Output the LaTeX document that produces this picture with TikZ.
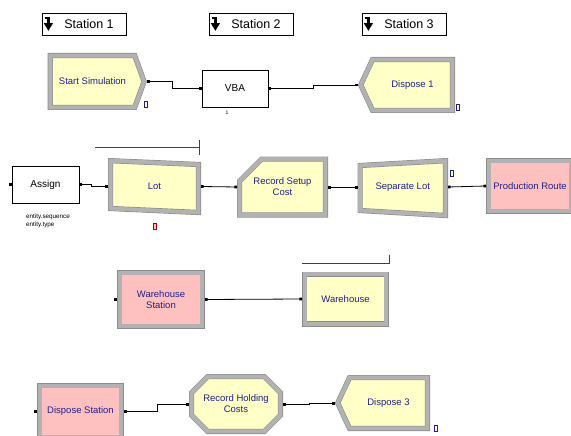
\documentclass[tikz,border=0pt]{standalone}
\usepackage{fontspec}
\setmainfont{Liberation Sans}
\usepackage{tikz}
\usetikzlibrary{positioning}
\usetikzlibrary{arrows.meta}
\usetikzlibrary{shapes.symbols,shapes.misc}

\definecolor{modyellow}{RGB}{255,255,200}
\definecolor{modpink}{RGB}{255,192,192}
\definecolor{modblue}{RGB}{32,32,140}
\definecolor{bevelgray}{RGB}{178,178,178}
\definecolor{queueblue}{RGB}{45,45,215}

\begin{document}
\begin{tikzpicture}[x=1pt,y=-1pt,
		module/.style={draw=black!45, line width=0.6pt, double=bevelgray, double distance=4pt, fill=modyellow, text=modblue, font=\fontsize{9.5}{11}\selectfont, align=center, inner sep=0pt, outer sep=2.6pt},
		station/.style={module, fill=modpink},
		modtext/.style={text=modblue, font=\fontsize{9.5}{11}\selectfont, align=center, inner sep=0pt, outer sep=0pt},
		bevel/.style={draw=black!45, line width=0.6pt, double=bevelgray, double distance=4pt, fill=modyellow},
		plain/.style={draw=black, line width=0.6pt, fill=white, font=\fontsize{10}{12}\selectfont, inner sep=0pt, outer sep=0pt},
		stationlabel/.style={draw=black, line width=0.7pt, fill=white, minimum width=84, minimum height=22, inner sep=0pt, font=\fontsize{12.5}{14}\selectfont,
			path picture={
				\draw[black,line width=2.6pt] ([shift={(2.5pt,6pt)}]path picture bounding box.west) -| ([shift={(6.4pt,0pt)}]path picture bounding box.west);
				\fill[black] ([shift={(1.8pt,0.8pt)}]path picture bounding box.west) -- ++(9.2pt,0pt) -- ([shift={(6.4pt,-6.8pt)}]path picture bounding box.west) -- cycle;
			}},
		link/.style={draw=black, line width=0.8pt, {Square[length=2.6pt]}-{Square[length=2.6pt]}},
		inpoint/.style={fill=black, minimum size=3pt, inner sep=0pt, outer sep=0pt},
		counter/.style={draw=modblue, line width=0.6pt, fill=white, minimum width=2.5pt, minimum height=6pt, inner sep=0pt},
		tinytext/.style={font=\fontsize{6.3}{8}\selectfont, inner sep=0pt, align=left},
		queue/.style={draw=queueblue, line width=1pt},
	]
	\useasboundingbox (0,0) rectangle (571,436);
	% Station markers
	\node (st1) [stationlabel] at (84,24) {\hspace*{10pt}Station 1};
	\node (st2) [stationlabel] at (251,24) {\hspace*{10pt}Station 2};
	\node (st3) [stationlabel] at (404,24) {\hspace*{10pt}Station 3};
	% First row
	\node (start) [module,signal,signal to=east,signal pointer angle=140,minimum width=93.8,minimum height=51.8] at (92.5,81.5) {Start Simulation};
	\node (vba) [plain,minimum width=66,minimum height=37] at (235,88.5) {VBA};
	\node (dispose1) [module,signal,signal to=west,signal pointer angle=130,minimum width=91.8,minimum height=50.8] at (412.5,85) {Dispose 1};
	\node (startcnt) [counter] at (146,104.5) {};
	\node (vbacnt) [tinytext] at (227,113) {\fontsize{5}{6}\selectfont 1};
	\node (dispose1cnt) [counter] at (458,107) {};
	% Second row
	\node (assign) [plain,minimum width=67,minimum height=37] at (45.5,184.5) {Assign};
	\node (assignin) [inpoint,left=0pt of assign] {};
	\node (assignnote) [tinytext,anchor=north west] at (26,213.5) {entity.sequence\\entity.type};
	\draw[bevel] (110.6,160.7) -- (198.4,164.5) -- (198.4,212.5) -- (110.6,208.5) -- cycle;
	\node (lot) [modtext,minimum width=93,minimum height=52] at (154.5,186.5) {Lot};
	\node (lotcnt) [counter,draw=red!60!black,fill=modpink] at (155,226) {};
	\draw[queue] (95,147) -- (199,147) (199,140) -- (199,155);
	\node (rsc) [module,chamfered rectangle,chamfered rectangle corners=north west,chamfered rectangle sep=13pt,minimum width=85.8,minimum height=55.8] at (282.5,187) {Record Setup\\Cost};
	\draw[bevel] (360.1,165.5) -- (445.4,160.7) -- (445.4,215.5) -- (360.1,210.5) -- cycle;
	\node (sep) [modtext,minimum width=90.5,minimum height=50] at (402.75,187) {Separate Lot};
	\node (sepcnt) [counter] at (452,173) {};
	\node (route) [station,minimum width=82.8,minimum height=50.8] at (530,186) {Production Route};
	% Third row
	\node (whst) [station,minimum width=82.8,minimum height=53.8] at (161,299.5) {Warehouse\\Station};
	\node (whstin) [inpoint,left=0pt of whst] {};
	\node (wh) [module,minimum width=81.8,minimum height=49.8] at (345.5,299) {Warehouse};
	\draw[queue] (302,263) -- (389,263) (389,254.5) -- (389,264);
	% Fourth row
	\node (dstat) [station,minimum width=81.8,minimum height=51.8] at (80.5,411.5) {Dispose Station};
	\node (dstatin) [inpoint,left=0pt of dstat] {};
	\node (rhc) [module,chamfered rectangle,chamfered rectangle sep=8pt,minimum width=88.8,minimum height=54.8] at (236,404) {Record Holding\\Costs};
	\node (d3) [module,signal,signal to=west,signal pointer angle=130,minimum width=89.8,minimum height=50.8] at (388.5,403) {Dispose 3};
	\node (d3cnt) [counter] at (436,428) {};
	% Connections
	\draw[link] (start.east) -- ++(26,0) |- (vba.west);
	\draw[link] (vba.east) -- ++(45,0) |- (dispose1.west);
	\draw[link] (assign.east) -- ++(12,0) |- (lot.west);
	\draw[link] (lot.east) -- (rsc.west);
	\draw[link] (rsc.east) -- (sep.west);
	\draw[link] (sep.east) -- (route.west);
	\draw[link] (whst.east) -- (wh.west);
	\draw[link] (dstat.east) -- ++(33,0) |- (rhc.west);
	\draw[link] (rhc.east) -- ++(26,0) |- (d3.west);
\end{tikzpicture}
\end{document}
